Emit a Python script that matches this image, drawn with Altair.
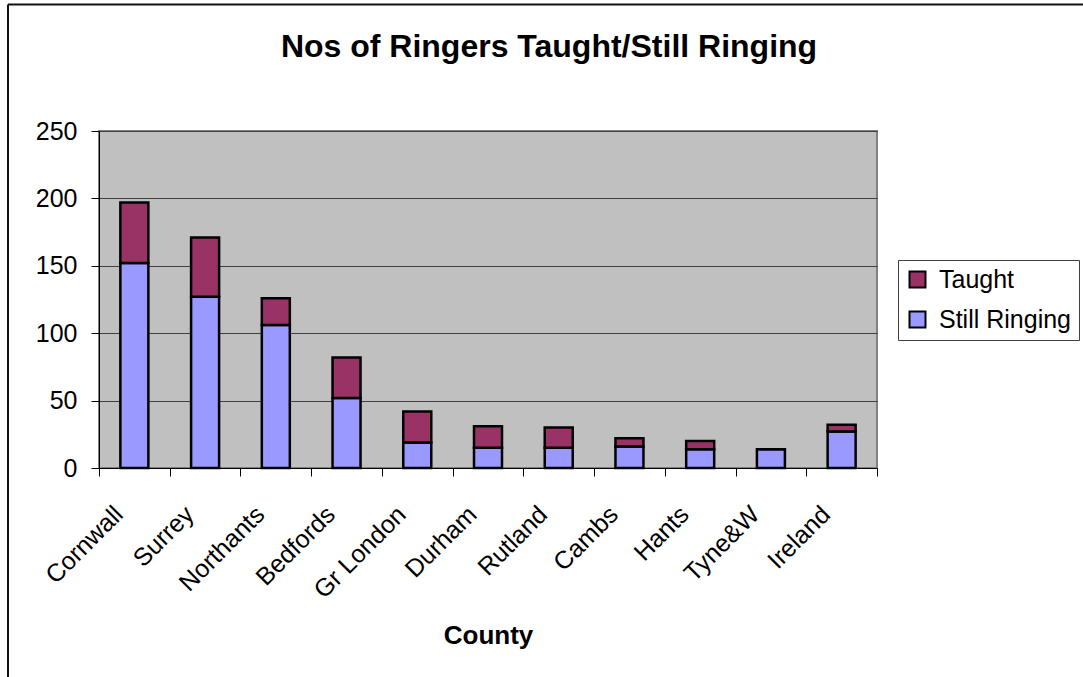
import altair as alt
import pandas as pd

# Counties in chart order
counties = ["Cornwall", "Surrey", "Northants", "Bedfords", "Gr London", "Durham",
            "Rutland", "Cambs", "Hants", "Tyne&W", "Ireland"]
# Ringers still ringing (lower segment)
still_ringing = [152, 127, 106, 52, 19, 15, 15, 16, 14, 14, 27]
# Additional ringers taught (upper segment)
taught = [45, 44, 20, 30, 23, 16, 15, 6, 6, 0, 5]

series_names = ["Taught", "Still Ringing"]
series_colors = ["#993366", "#9999FF"]
y_ticks = [0, 50, 100, 150, 200, 250]
chart_title = ["Nos of Ringers Taught/Still Ringing"]

rows = []
for c, s, t in zip(counties, still_ringing, taught):
    rows.append({"County": c, "Series": "Still Ringing", "Value": s, "stack": 0})
    rows.append({"County": c, "Series": "Taught", "Value": t, "stack": 1})
df = pd.DataFrame(rows)
title_df = pd.DataFrame({"title": chart_title})

FONT = "Liberation Sans"

bars = alt.Chart(df).mark_bar(stroke="black", strokeWidth=2.5, size=28).encode(
    x=alt.X("County:N", sort=counties, scale=alt.Scale(paddingInner=0, paddingOuter=0),
            axis=alt.Axis(title="County", labelAngle=-45, labelAlign="right",
                          labelBaseline="middle", labelPadding=34, labelOffset=-16,
                          labelFontSize=25, labelColor="black", tickBand="extent",
                          tickSize=8, tickColor="black", domainColor="black",
                          titleFontSize=26, titleFontWeight="bold", titleColor="black",
                          titleY=175, titleBaseline="alphabetic", grid=False)),
    y=alt.Y("Value:Q", stack="zero", scale=alt.Scale(domain=[0, 250], nice=False),
            axis=alt.Axis(title=None, values=y_ticks, labelFontSize=25, labelColor="black",
                          labelPadding=14, tickSize=8, tickColor="black",
                          domainColor="black", gridColor="#404040", gridWidth=1)),
    color=alt.Color("Series:N", scale=alt.Scale(domain=series_names, range=series_colors),
                    legend=alt.Legend(title=None, orient="none", legendX=799, legendY=129,
                                      labelFontSize=25, labelColor="black",
                                      symbolType="square", symbolSize=256,
                                      symbolStrokeColor="black", symbolStrokeWidth=2,
                                      labelOffset=9, padding=7, rowPadding=14,
                                      strokeColor="#404040", fillColor="white")),
    order=alt.Order("stack:Q", sort="ascending"),
)

# Chart title, centred over the whole chart frame
title = alt.Chart(title_df).mark_text(
    fontSize=32, fontWeight="bold", font=FONT, color="black",
    align="center", baseline="alphabetic").encode(
    text="title:N", x=alt.value(450), y=alt.value(-74))

# Outer frame of the chart (top and left edges)
frame_left = alt.Chart(title_df).mark_rule(color="#111111", strokeWidth=2).encode(
    x=alt.value(-91), y=alt.value(-126.5), y2=alt.value(546))
frame_top = alt.Chart(title_df).mark_rule(color="#111111", strokeWidth=2).encode(
    x=alt.value(-91), x2=alt.value(984), y=alt.value(-126.5))

chart = alt.layer(bars, title, frame_left, frame_top).properties(
    width=778, height=337,
    autosize=alt.AutoSizeParams(type="none"),
    padding={"left": 99, "top": 131, "right": 206, "bottom": 209},
).configure(font=FONT, background="white").configure_view(
    fill="#C0C0C0", stroke="#808080", strokeWidth=2)

chart.save("out.html", embed_options={"renderer": "svg", "actions": False})
